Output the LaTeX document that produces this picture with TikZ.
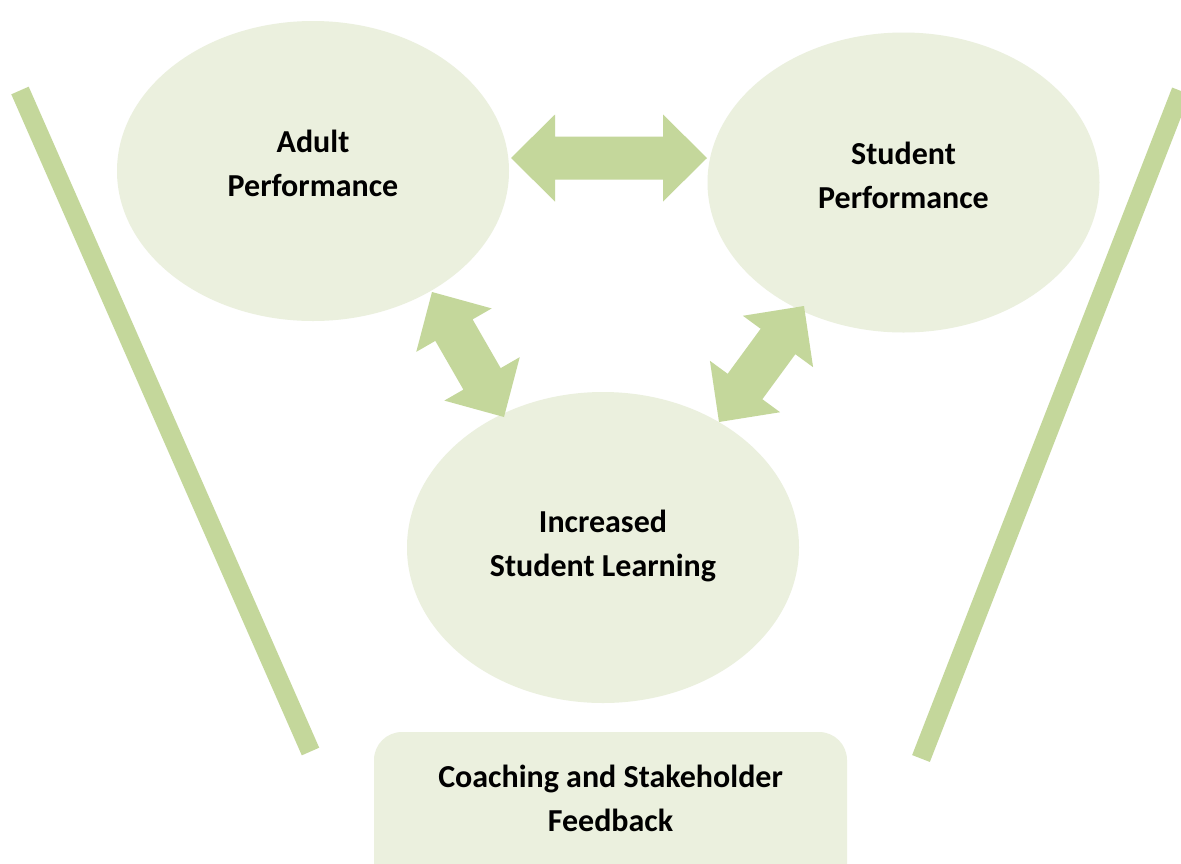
\documentclass[tikz,border=0pt]{standalone}
\usepackage{fontspec}
\setmainfont{Carlito}
\usetikzlibrary{calc,shapes.geometric}

\definecolor{bubblefill}{HTML}{EBF0DE}
\definecolor{arrowgreen}{HTML}{C4D79B}

\tikzset{
  bubble/.style={ellipse, fill=bubblefill, inner sep=0pt,
                 minimum width=392pt, minimum height=300pt},
  feedbox/.style={rectangle, rounded corners=28pt, fill=bubblefill, inner sep=0pt,
                  minimum width=473pt, minimum height=170pt},
  label text/.style={align=center, font=\bfseries\fontsize{32}{44}\selectfont},
  funnel side/.style={draw=arrowgreen, line width=19pt, line cap=butt},
  arrow body/.style={fill=arrowgreen},
}

% Block double arrow between two tips: head length 44, head half-width 43.5,
% shaft half-width 21.5
\newcommand{\blockarrow}[2]{%
  \path coordinate (ha) at ($(#1)!44pt!(#2)$)
        coordinate (hb) at ($(#2)!44pt!(#1)$);
  \fill[arrow body] (#1)
    -- ($(ha)!43.5pt!90:(#2)$) -- ($(ha)!21.5pt!90:(#2)$)
    -- ($(hb)!21.5pt!-90:(#1)$) -- ($(hb)!43.5pt!-90:(#1)$)
    -- (#2)
    -- ($(hb)!43.5pt!90:(#1)$) -- ($(hb)!21.5pt!90:(#1)$)
    -- ($(ha)!21.5pt!-90:(#2)$) -- ($(ha)!43.5pt!-90:(#2)$)
    -- cycle;
}

\begin{document}
\begin{tikzpicture}[x=1pt, y=-1pt]
  \clip (0,0) rectangle (1181,863);
  \fill[white] (0,0) rectangle (1181,863);

  % funnel sides
  \coordinate (lt) at (20,90.5);
  \coordinate (lb) at (310.5,751.5);
  \coordinate (rt) at (1181,91);
  \coordinate (rb) at (921,758.5);
  \draw[funnel side] (lt) -- (lb);
  \draw[funnel side] (rt) -- (rb);

  % bubbles
  \node[bubble] (adult) at (313,171) {};
  \node[bubble] (student) at (903.5,182.5) {};
  \node[bubble, minimum height=311pt] (learning) at (603,547.5) {};
  \node[feedbox] (coach) at (610.5,817) {};

  % texts
  \node[label text] (adultT) at (313,163) {Adult\\Performance};
  \node[label text] (studentT) at (903.5,175) {Student\\Performance};
  \node[label text] (learningT) at (603,546) {Increased\\Student Learning};
  \node[label text] (coachT) at (610.5,798) {Coaching and Stakeholder\\Feedback};

  % arrow tips
  \coordinate (ap) at (511,158);
  \coordinate (sp) at (707,158);
  \coordinate (al) at (432,292);
  \coordinate (la) at (504,417);
  \coordinate (sl) at (804,306);
  \coordinate (ls) at (719,422);

  \blockarrow{ap}{sp}
  \blockarrow{al}{la}
  \blockarrow{sl}{ls}
\end{tikzpicture}
\end{document}
